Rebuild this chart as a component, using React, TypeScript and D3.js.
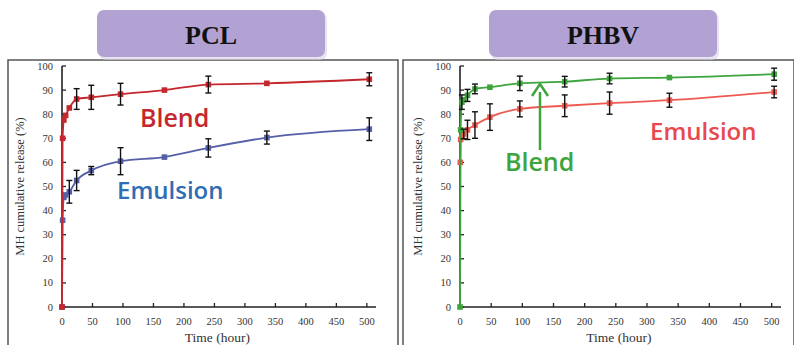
import React from "react";
import * as d3 from "d3";

// time points (hour)
const pclTimes = [0, 1, 3, 6, 12, 24, 48, 96, 168, 240, 336, 504];
const pclBlend = [0, 70, 77.6, 79.5, 82.6, 86.3, 87, 88.3, 90, 92.3, 92.8, 94.5];
const pclBlendErr = [0, 0, 0.8, 1, 1.2, 4.3, 5, 4.5, 1.2, 3.5, 0.8, 2.7];
const pclEmTimes = [0, 1, 3, 6, 12, 24, 48, 96, 168, 240, 336, 504];
const pclEmulsion = [0, 36, 45.5, 46.5, 47.8, 52.5, 56.6, 60.5, 62.2, 66, 70.3, 73.8];
const pclEmulsionErr = [0, 0, 1, 1, 4.7, 4.2, 1.7, 5.6, 1.3, 3.8, 2.7, 4.7];

const phbvBlTimes = [0, 1, 3, 6, 12, 24, 48, 96, 168, 240, 336, 504];
const phbvBlend = [0, 73.5, 85, 86, 87.8, 90.5, 91.2, 92.8, 93.5, 94.8, 95.2, 96.6];
const phbvBlendErr = [0, 0, 3, 1.5, 2.5, 2, 1.5, 3, 2.2, 2.2, 0.8, 2.5];
const phbvEmTimes = [0.5, 1, 3, 6, 12, 24, 48, 96, 168, 240, 336, 504];
const phbvEmulsion = [60, 69.5, 70.5, 71.8, 73.5, 75.5, 78.8, 82.2, 83.5, 84.6, 85.8, 89.2];
const phbvEmulsionErr = [0, 0, 1, 2, 4, 5.5, 5.5, 3.3, 4.5, 4.6, 2.9, 2.4];

const xTicks = [0, 50, 100, 150, 200, 250, 300, 350, 400, 450, 500];
const yTicks = [0, 10, 20, 30, 40, 50, 60, 70, 80, 90, 100];

type Series = {
  t: number[];
  v: number[];
  e: number[];
  color: string;
};

const serif = "'Liberation Serif', 'Times New Roman', serif";
const sans = "'Open Sans', 'Noto Sans', sans-serif";

function Panel(props: {
  frameX: number;
  frameW: number;
  x0: number;
  x1: number;
  title: string;
  boxX: number;
  series: Series[];
  children?: React.ReactNode;
}) {
  const { frameX, frameW, x0, x1, title, boxX, series } = props;
  const x = d3.scaleLinear().domain([0, 515]).range([x0, x1]);
  const y = d3.scaleLinear().domain([0, 100]).range([307, 66]);
  const line = d3
    .line<[number, number]>()
    .x((d) => x(d[0]))
    .y((d) => y(d[1]))
    .curve(d3.curveMonotoneX);

  return (
    <g>
      <rect x={frameX} y={60} width={frameW} height={300} fill="#fff" stroke="#555" strokeWidth={1.5} />
      {/* title box */}
      <rect x={boxX + 2} y={12} width={228} height={48} rx={7} fill="#d8d0e6" opacity={0.6} />
      <rect x={boxX} y={10} width={228} height={47} rx={7} fill="#b2a2d4" />
      <text x={boxX + 114} y={44} textAnchor="middle" fontFamily={serif} fontWeight="bold" fontSize={26} fill="#111">
        {title}
      </text>

      {/* axes */}
      <line x1={x0} x2={x0} y1={y(100)} y2={y(0)} stroke="#222" strokeWidth={1.6} />
      <line x1={x0} x2={x1} y1={y(0)} y2={y(0)} stroke="#222" strokeWidth={1.6} />
      {yTicks.map((t) => (
        <g key={"y" + t}>
          <line x1={x0} x2={x0 + 4} y1={y(t)} y2={y(t)} stroke="#222" strokeWidth={1.3} />
          <text x={x0 - 9} y={y(t) + 3.5} textAnchor="end" fontFamily={serif} fontSize={10.5} fill="#333">
            {t}
          </text>
        </g>
      ))}
      {xTicks.map((t) => (
        <g key={"x" + t}>
          <line x1={x(t)} x2={x(t)} y1={y(0)} y2={y(0) - 4} stroke="#222" strokeWidth={1.3} />
          <text x={x(t)} y={y(0) + 18} textAnchor="middle" fontFamily={serif} fontSize={10.5} fill="#333">
            {t}
          </text>
        </g>
      ))}
      <text
        transform={`translate(${x0 - 38},${(y(0) + y(100)) / 2}) rotate(-90)`}
        textAnchor="middle"
        fontFamily={serif}
        fontSize={12.5}
        fill="#333"
      >
        MH cumulative release (%)
      </text>
      <text x={(x(0) + x(500)) / 2 + 3} y={342} textAnchor="middle" fontFamily={serif} fontSize={13.5} fill="#333">
        Time (hour)
      </text>

      {/* series */}
      {series.map((s, si) => {
        const pts: [number, number][] = s.t.map((t, i) => [t, s.v[i]]);
        return (
          <g key={si}>
            <path d={line(pts) || ""} fill="none" stroke={s.color} strokeWidth={1.8} />
            {pts.map((p, i) => (
              <rect key={i} x={x(p[0]) - 2.8} y={y(p[1]) - 2.8} width={5.6} height={5.6} fill={s.color} />
            ))}
          </g>
        );
      })}
      {series.map((s, si) => (
        <g key={"e" + si}>
          {s.t.map((t, i) =>
            s.e[i] > 1.5 ? (
              <g key={i} stroke="#111" strokeWidth={1.4}>
                <line x1={x(t)} x2={x(t)} y1={y(s.v[i] + s.e[i])} y2={y(s.v[i] - s.e[i])} />
                <line x1={x(t) - 3} x2={x(t) + 3} y1={y(s.v[i] + s.e[i])} y2={y(s.v[i] + s.e[i])} />
                <line x1={x(t) - 3} x2={x(t) + 3} y1={y(s.v[i] - s.e[i])} y2={y(s.v[i] - s.e[i])} />
              </g>
            ) : null
          )}
        </g>
      ))}
      {props.children}
    </g>
  );
}

export default function App() {
  return (
    <div style={{ position: "absolute", left: 0, top: 0 }}>
      <svg width={794} height={345} style={{ display: "block", background: "#fff" }}>
        <Panel
          frameX={8}
          frameW={390}
          x0={62}
          x1={376}
          title="PCL"
          boxX={97}
          series={[
            { t: pclEmTimes, v: pclEmulsion, e: pclEmulsionErr, color: "#5560a8" },
            { t: pclTimes, v: pclBlend, e: pclBlendErr, color: "#c4272d" },
          ]}
        >
          <text x={140} y={127} fontFamily={sans} fontWeight="600" fontSize={25} fill="#c4272d">
            Blend
          </text>
          <text x={117} y={199} fontFamily={sans} fontWeight="600" fontSize={24} fill="#2f6db4">
            Emulsion
          </text>
        </Panel>
        <Panel
          frameX={403}
          frameW={391}
          x0={460}
          x1={781}
          title="PHBV"
          boxX={489}
          series={[
            { t: phbvEmTimes, v: phbvEmulsion, e: phbvEmulsionErr, color: "#ee5a52" },
            { t: phbvBlTimes, v: phbvBlend, e: phbvBlendErr, color: "#3ea43e" },
          ]}
        >
          <text x={505} y={171} fontFamily={sans} fontWeight="600" fontSize={25} fill="#3ea43e">
            Blend
          </text>
          <text x={650} y={140} fontFamily={sans} fontWeight="600" fontSize={24} fill="#e8484e">
            Emulsion
          </text>
          <line x1={540} x2={540} y1={150} y2={92} stroke="#3ea43e" strokeWidth={2.5} />
          <path d="M532,96 L540,84 L548,96" fill="none" stroke="#3ea43e" strokeWidth={2.5} />
        </Panel>
      </svg>
    </div>
  );
}
